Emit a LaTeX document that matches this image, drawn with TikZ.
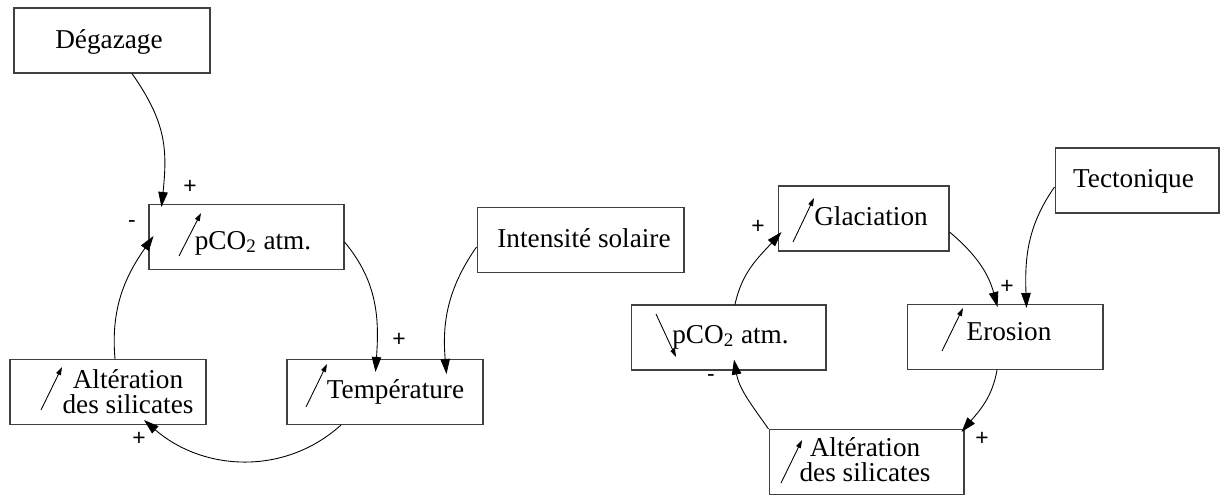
\documentclass[tikz,border=0pt]{standalone}
\usepackage{fontspec}
\setmainfont{Liberation Serif}
\newfontfamily\signfont{Liberation Sans}
\usetikzlibrary{arrows.meta,calc}

\begin{document}
\begin{tikzpicture}[
    x=0.02cm, y=0.02cm,
    box/.style={rectangle, draw=black!75, line width=0.6pt, minimum width=#1,
                minimum height=1.3cm, inner sep=0pt},
    box/.default=3.92cm,
    lbl/.style={anchor=base, align=center, font=\fontsize{15.5}{14.2}\selectfont},
    sign/.style={font=\signfont\fontsize{13}{13}\selectfont},
    link/.style={line width=0.5pt, -{Triangle[length=0.3cm, width=0.19cm]}},
    trend/.style={line width=0.5pt, -{Triangle[length=0.16cm, width=0.1cm]}}
]
\useasboundingbox (0,0) rectangle (1220,-495);

% Left loop
\node[box] (degazage) at (112,-40.5) {};
\node[box=3.9cm] (pco2l) at (246.5,-237) {};
\node[box=4.14cm] (solaire) at (580.5,-240) {};
\node[box] (temp) at (385,-392) {};
\node[box] (altl) at (108,-392) {};

% Right loop
\node[box=3.28cm] (tecto) at (1137,-180.5) {};
\node[box=3.42cm] (glac) at (863.5,-218.5) {};
\node[box=3.9cm] (pco2r) at (728.5,-337.5) {};
\node[box] (erosion) at (1005,-337) {};
\node[box=3.9cm] (altr) at (866.5,-462) {};

% Texts
\node[lbl] at ($(degazage)+(-3,-7.5)$) {Dégazage};
\node[lbl] at ($(pco2l)+(6.5,-12)$) {pCO\textsubscript{2} atm.};
\node[lbl] at ($(solaire)+(3.5,-7)$) {Intensité solaire};
\node[lbl] at ($(temp)+(10.5,-6)$) {Température};
\node[lbl] at ($(altl)+(20,-21)$) {Altération\\des silicates};
\node[lbl] at ($(tecto)+(-3.5,-6.5)$) {Tectonique};
\node[lbl] at ($(glac)+(7.5,-6.5)$) {Glaciation};
\node[lbl] at ($(pco2r)+(2,-5.5)$) {pCO\textsubscript{2} atm.};
\node[lbl] at ($(erosion)+(4,-3)$) {Erosion};
\node[lbl] at ($(altr)+(-1.5,-19)$) {Altération\\des silicates};

% Trends inside the boxes
\draw[trend] ($(pco2l)+(-67.5,-19)$) -- ++(22,43);
\draw[trend] ($(temp)+(-79,-15)$) -- ++(21,43);
\draw[trend] ($(altl)+(-67,-18)$) -- ++(21,43);
\draw[trend] ($(glac)+(-70.5,-23.5)$) -- ++(21,44);
\draw[trend] ($(pco2r)+(-72.5,23.5)$) -- ++(20,-43);
\draw[trend] ($(erosion)+(-63,-14)$) -- ++(21,43);
\draw[trend] ($(altr)+(-85.5,-21)$) -- ++(21,43);

% Links
\draw[link] ($(degazage.south)+(20,0)$) to[out=-55, in=84, looseness=1.1] ($(pco2l.north west)+(13,-3)$);
\draw[link] ($(altl.north)+(7,0)$) to[out=95, in=235] ($(pco2l.west)+(5,1)$);
\draw[link] ($(pco2l.east)+(0,-5)$) to[out=-50, in=86] ($(temp.north west)+(89,-13)$);
\draw[link] ($(solaire.west)+(0,-7)$) to[out=235, in=95] ($(temp.north west)+(160,-15)$);
\draw[link] ($(temp.south)+(-44,0)$) to[out=222, in=-41] ($(altl.south)+(36,5)$);

\draw[link] ($(pco2r.north)+(6.5,0)$) to[out=78, in=228] ($(glac.west)+(4,-13.5)$);
\draw[link] ($(glac.east)+(0,-13.5)$) to[out=-40, in=105] ($(erosion.north west)+(91,-3)$);
\draw[link] ($(tecto.west)+(0,-6.5)$) to[out=235, in=92] ($(erosion.north west)+(120,-4)$);
\draw[link] ($(erosion.south)+(-8,0)$) to[out=-100, in=50] ($(altr.north east)+(-3,-3)$);
\draw[link] (altr.north west) to[out=125, in=-80] ($(pco2r.south)+(5.5,11)$);

% Signs
\node[sign] at (190,-187) {+};
\node[sign] at (132,-224) {-};
\node[sign] at (399,-340) {+};
\node[sign] at (139,-439) {+};
\node[sign] at (758,-227) {+};
\node[sign] at (1007,-287) {+};
\node[sign] at (982,-439) {+};
\node[sign] at (711,-378) {-};

\end{tikzpicture}
\end{document}
